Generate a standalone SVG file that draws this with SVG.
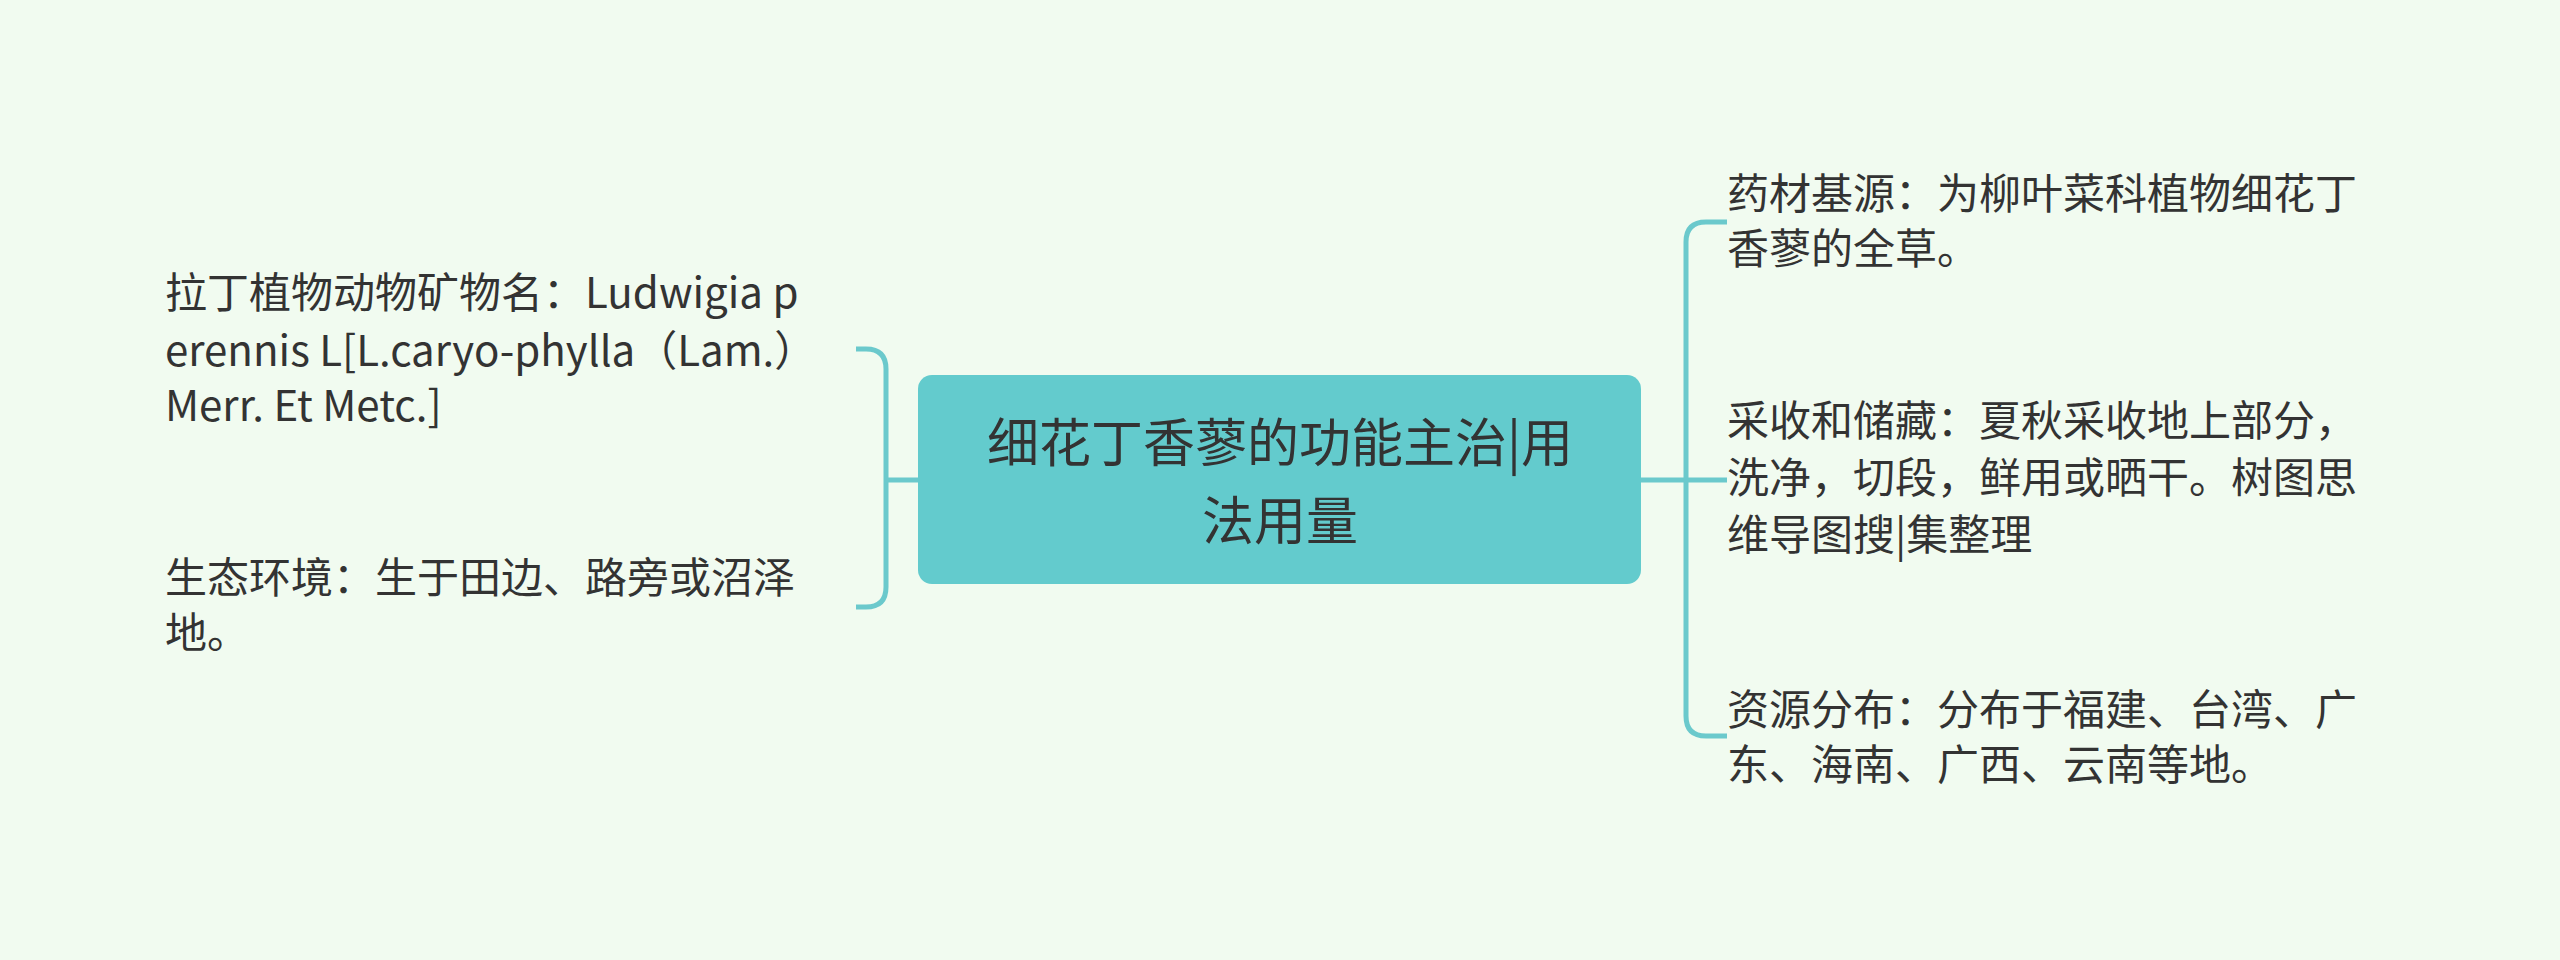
<svg xmlns="http://www.w3.org/2000/svg" width="2560" height="960" viewBox="0 0 2560 960">
<style>
text{font-family:"Noto Sans CJK SC","Noto Sans",sans-serif;fill:#333;}
.t{font-size:42px;}
.c{fill:none;stroke:#6BC9CC;stroke-width:5;}
</style>
<rect width="2560" height="960" fill="#F1FBF0"/>
<g id="connectors">
<path class="c" d="M918 480H886M856 349H866Q886 349 886 369V587Q886 607 866 607H856"/>
<path class="c" d="M1641 480H1727M1727 222H1706Q1686 222 1686 242V716Q1686 736 1706 736H1727"/>
</g>
<g id="center">
<rect x="918" y="375" width="723" height="209" rx="14" fill="#63CBCD"/>
<text x="1280" y="462" text-anchor="middle" font-size="52">细花丁香蓼的功能主治|用</text>
<text x="1280" y="540" text-anchor="middle" font-size="52">法用量</text>
</g>
<g id="n1"><text class="t" x="165" y="308">拉丁植物动物矿物名：Ludwigia p</text><text class="t" x="165" y="366">erennis L[L.caryo-phylla（Lam.）</text><text class="t" x="165" y="421"> Merr. Et Metc.]</text></g>
<g id="n2"><text class="t" x="165" y="593">生态环境：生于田边、路旁或沼泽</text><text class="t" x="165" y="648">地。</text></g>
<g id="n3"><text class="t" x="1727" y="209">药材基源：为柳叶菜科植物细花丁</text><text class="t" x="1727" y="264">香蓼的全草。</text></g>
<g id="n4"><text class="t" x="1727" y="436">采收和储藏：夏秋采收地上部分，</text><text class="t" x="1727" y="493">洗净，切段，鲜用或晒干。树图思</text><text class="t" x="1727" y="550">维导图搜|集整理</text></g>
<g id="n5"><text class="t" x="1727" y="725">资源分布：分布于福建、台湾、广</text><text class="t" x="1727" y="780">东、海南、广西、云南等地。</text></g>
</svg>
